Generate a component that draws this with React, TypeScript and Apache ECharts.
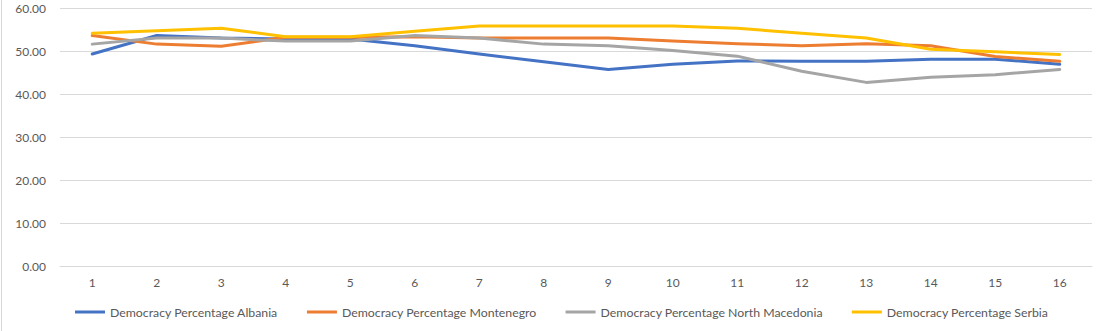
import React, { useEffect, useRef } from "react";
import * as echarts from "echarts";

const categories = ["1", "2", "3", "4", "5", "6", "7", "8", "9", "10", "11", "12", "13", "14", "15", "16"];
const albania = [49.3, 53.6, 53.0, 52.8, 52.8, 51.2, 49.3, 47.5, 45.7, 46.9, 47.7, 47.6, 47.6, 48.1, 48.1, 46.9];
const montenegro = [53.6, 51.6, 51.1, 53.2, 53.2, 53.3, 53.0, 53.0, 53.0, 52.3, 51.7, 51.2, 51.7, 51.2, 48.7, 47.6];
const northMacedonia = [51.6, 53.0, 53.0, 52.3, 52.3, 53.6, 53.0, 51.6, 51.2, 50.1, 48.8, 45.3, 42.7, 43.9, 44.5, 45.7];
const serbia = [54.1, 54.7, 55.3, 53.3, 53.3, 54.6, 55.8, 55.8, 55.8, 55.8, 55.3, 54.1, 53.0, 50.4, 49.8, 49.2];
const seriesNames = [
  "Democracy Percentage Albania",
  "Democracy Percentage Montenegro",
  "Democracy Percentage North Macedonia",
  "Democracy Percentage Serbia",
];
const colors = ["#4472C4", "#ED7D31", "#A5A5A5", "#FFC000"];

const FONT = "Lato, 'Noto Sans', sans-serif";

export default function App() {
  const ref = useRef<HTMLDivElement>(null);
  useEffect(() => {
    document.body.style.margin = "0";
    const chart = echarts.init(ref.current!, null, { renderer: "svg" });
    const data = [albania, montenegro, northMacedonia, serbia];
    chart.setOption({
      animation: false,
      backgroundColor: "#ffffff",
      color: colors,
      textStyle: { fontFamily: FONT },
      grid: { left: 60, right: 16, top: 8, bottom: 65, containLabel: false },
      xAxis: {
        type: "category",
        data: categories,
        boundaryGap: true,
        axisLine: { show: true, lineStyle: { color: "#d9d9d9", width: 1 } },
        axisTick: { show: false },
        axisLabel: { color: "#595959", fontSize: 12, margin: 10, fontFamily: FONT },
      },
      yAxis: {
        type: "value",
        min: 0,
        max: 60,
        interval: 10,
        axisLine: { show: false },
        axisTick: { show: false },
        splitLine: { lineStyle: { color: "#d9d9d9", width: 1 } },
        axisLabel: {
          color: "#595959",
          fontSize: 12,
          margin: 14,
          fontFamily: FONT,
          formatter: (v: number) => v.toFixed(2),
        },
      },
      legend: {
        bottom: 8,
        left: 70,
        itemWidth: 30,
        itemHeight: 3,
        itemGap: 29,
        icon: "rect",
        textStyle: { color: "#595959", fontSize: 12.3, fontFamily: FONT },
        data: seriesNames,
      },
      graphic: [
        {
          type: "line",
          shape: { x1: 1.5, y1: 0, x2: 1.5, y2: 331 },
          style: { stroke: "#d9d9d9", lineWidth: 1 },
        },
      ],
      series: data.map((d, i) => ({
        name: seriesNames[i],
        type: "line",
        data: d,
        showSymbol: false,
        symbol: "none",
        lineStyle: { width: 3, color: colors[i], cap: "round", join: "round" },
        itemStyle: { color: colors[i] },
      })),
    });
    return () => chart.dispose();
  }, []);
  return <div ref={ref} style={{ width: 1108, height: 331 }} />;
}
